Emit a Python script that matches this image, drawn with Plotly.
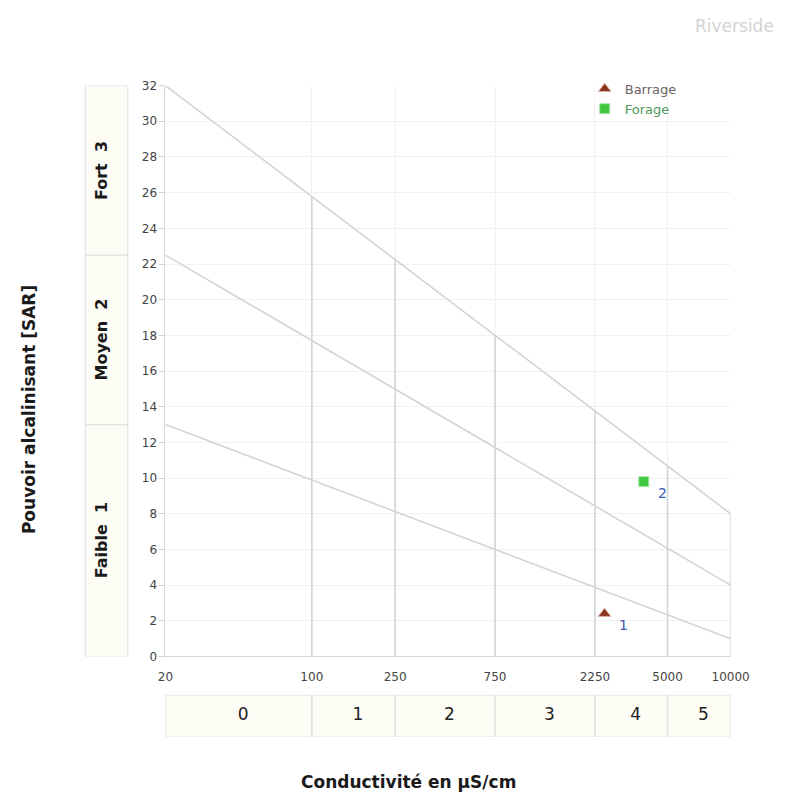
import numpy as np
import plotly.graph_objects as go

# Conductivity scale (µS/cm) and salinity classes
cond_ticks = [20, 100, 250, 750, 2250, 5000, 10000]
cond_labels = ["20", "100", "250", "750", "2250", "5000", "10000"]
salinity_classes = ["0", "1", "2", "3", "4", "5"]

# SAR scale and alkalinity classes
sar_ticks = list(range(0, 33, 2))
alk_bounds = [0, 13, 22.5, 32]
alk_labels = ["Faible  1", "Moyen  2", "Fort  3"]

# Class boundary lines: SAR at conductivity 20 and 10000
boundary_start = [13, 22.5, 32]
boundary_end = [1, 4, 8]

# Vertical class separators and the SAR where each meets the upper boundary
sep_cond = [100, 250, 750, 2250, 5000, 10000]
sep_top = [25.8, 22.25, 18.0, 13.75, 10.7, 8.0]

# Samples
samples = ["Barrage", "Forage"]
sample_ids = ["1", "2"]
sample_cond = [2500, 3850]
sample_sar = [2.4, 9.8]

W, H = 795, 803
FONT = "DejaVu Sans, Verdana, sans-serif"
LINE_C = "#d4d4d4"
GRID_C = "#f1f1f1"
BOX_LINE = "#e2e2e2"
BOX_FILL = "#fdfdf6"

x_dom = [163 / W, 748 / W]
y_dom = [1 - 661 / H, 1 - 80 / H]
band_dom = [1 - 743 / H, 1 - 700 / H]

fig = go.Figure()

# Boundary lines of the diagram
for s0, s1 in zip(boundary_start, boundary_end):
    fig.add_trace(go.Scatter(x=[cond_ticks[0], cond_ticks[-1]], y=[s0, s1], mode="lines",
                             line=dict(color=LINE_C, width=1.6), showlegend=False, hoverinfo="skip"))

# Vertical separators
vx, vy = [], []
for c, t in zip(sep_cond, sep_top):
    vx += [c, c, None]
    vy += [0, t, None]
fig.add_trace(go.Scatter(x=vx, y=vy, mode="lines", line=dict(color=LINE_C, width=1.6),
                         showlegend=False, hoverinfo="skip"))

# Samples
markers = [
    dict(symbol="triangle-up", size=11, color="#8a3422", line=dict(color="#e0b0a0", width=1)),
    dict(symbol="square", size=10, color="#3fc73f", line=dict(color="#a8e6a8", width=1)),
]
name_colors = ["#6b6262", "#4f9a5c"]
for name, c, s, m, nc in zip(samples, sample_cond, sample_sar, markers, name_colors):
    fig.add_trace(go.Scatter(x=[c], y=[s], mode="markers", marker=m,
                             name=f"<span style='color:{nc}'>{name}</span>"))

annotations = []
for sid, c, s in zip(sample_ids, sample_cond, sample_sar):
    annotations.append(dict(x=np.log10(c), y=s, xref="x", yref="y", text=sid, showarrow=False,
                            xanchor="center", yanchor="middle", xshift=19, yshift=-11,
                            font=dict(family=FONT, size=14, color="#3a5cb0")))

# Salinity class band below the plot (own axes sharing the log scale)
bx, by = [], []
edges = cond_ticks
for i in range(len(salinity_classes)):
    a, b = edges[i], edges[i + 1]
    bx += [a, b, b, a, a, None]
    by += [0, 0, 1, 1, 0, None]
fig.add_trace(go.Scatter(x=bx, y=by, xaxis="x2", yaxis="y2", mode="lines", fill="toself",
                         fillcolor=BOX_FILL, line=dict(color=BOX_LINE, width=1.2),
                         showlegend=False, hoverinfo="skip"))
mids = [np.sqrt(edges[i] * edges[i + 1]) * 1.05 for i in range(len(salinity_classes))]
fig.add_trace(go.Scatter(x=mids, y=[0.5] * len(mids), xaxis="x2", yaxis="y2", mode="text",
                         text=salinity_classes, textfont=dict(family=FONT, size=17, color="#222"),
                         showlegend=False, hoverinfo="skip"))

# Alkalinity class band on the left
shapes = []
for i, lab in enumerate(alk_labels):
    lo, hi = alk_bounds[i], alk_bounds[i + 1]
    shapes.append(dict(type="rect", xref="paper", yref="y", x0=80 / W, x1=124 / W, y0=lo, y1=hi,
                       fillcolor=BOX_FILL, line=dict(color=BOX_LINE, width=1.2), layer="below"))
    annotations.append(dict(x=97 / W, y=(lo + hi) / 2, xref="paper", yref="y", text=f"<b>{lab}</b>",
                            textangle=-90, showarrow=False, xanchor="center", yanchor="middle",
                            font=dict(family=FONT, size=16, color="#1a1a1a")))

# Titles and watermark
annotations.append(dict(x=22 / W, y=1 - 410 / H, xref="paper", yref="paper",
                        text="<b>Pouvoir alcalinisant [SAR]</b>", textangle=-90, showarrow=False,
                        xanchor="center", yanchor="middle",
                        font=dict(family=FONT, size=17, color="#1a1a1a")))
annotations.append(dict(x=415 / W, y=1 - 789 / H, xref="paper", yref="paper",
                        text="<b>Conductivité en µS/cm</b>", showarrow=False,
                        xanchor="center", yanchor="middle",
                        font=dict(family=FONT, size=17, color="#1a1a1a")))
annotations.append(dict(x=795 / W, y=1 - 19 / H, xref="paper", yref="paper", xanchor="right",
                        yanchor="middle", text="Riverside", showarrow=False,
                        font=dict(family=FONT, size=17, color="#d2d2d2")))

log_range = [np.log10(cond_ticks[0]), np.log10(cond_ticks[-1])]
fig.update_layout(
    width=W, height=H, margin=dict(l=0, r=0, t=0, b=0),
    paper_bgcolor="white", plot_bgcolor="white",
    font=dict(family=FONT, size=12, color="#333"),
    xaxis=dict(type="log", range=log_range, domain=x_dom, tickvals=cond_ticks, ticktext=cond_labels,
               showgrid=True, gridcolor=GRID_C, showline=True, linecolor="#d8d8d8", ticks="",
               ticklabelstandoff=9, tickfont=dict(size=12, color="#444"), anchor="y", zeroline=False),
    yaxis=dict(range=[0, 32], domain=y_dom, tickvals=sar_ticks, showgrid=True, gridcolor=GRID_C,
               showline=True, linecolor="#d8d8d8", ticks="outside", ticklen=5, tickcolor="#d0d0d0",
               tickfont=dict(size=12, color="#444"), zeroline=False, anchor="x"),
    xaxis2=dict(type="log", range=log_range, domain=x_dom, anchor="y2", showgrid=False,
                showticklabels=False, ticks="", showline=False, zeroline=False),
    yaxis2=dict(range=[0, 1], domain=band_dom, anchor="x2", showgrid=False, showticklabels=False,
                ticks="", showline=False, zeroline=False),
    legend=dict(x=597 / W, y=1 - 68 / H, xanchor="left", yanchor="top", bgcolor="rgba(0,0,0,0)",
                font=dict(family=FONT, size=13), itemwidth=30, tracegroupgap=0),
    shapes=shapes, annotations=annotations,
)

fig.write_html("out.html")
